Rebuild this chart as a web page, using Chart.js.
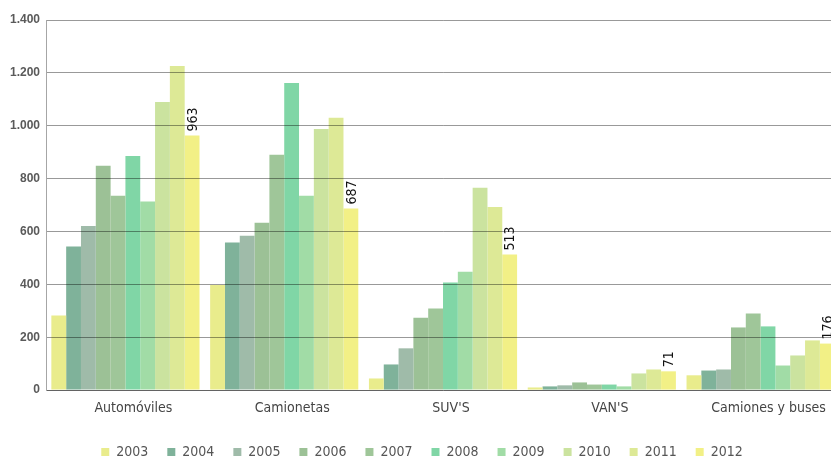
<!DOCTYPE html>
<html>
<head>
<meta charset="utf-8">
<script src="https://cdn.jsdelivr.net/npm/chart.js@4/dist/chart.umd.min.js"></script>
<style>
  html, body { margin: 0; padding: 0; overflow: hidden; background: #fff; }
  #wrap { width: 842px; height: 457px; position: relative; }
</style>
</head>
<body>
<div id="wrap"><canvas id="chart"></canvas></div>
<script>
// categories and years
const categories = ['Automóviles', 'Camionetas', "SUV'S", "VAN'S", 'Camiones y buses'];
const years = ['2003', '2004', '2005', '2006', '2007', '2008', '2009', '2010', '2011', '2012'];

// values per year, one entry per category
const v2003 = [282, 398, 44, 10, 56];
const v2004 = [543, 558, 97, 14, 74];
const v2005 = [621, 584, 158, 18, 78];
const v2006 = [849, 633, 274, 29, 237];
const v2007 = [735, 890, 309, 21, 290];
const v2008 = [886, 1162, 407, 21, 241];
const v2009 = [713, 735, 448, 14, 93];
const v2010 = [1090, 988, 765, 63, 131];
const v2011 = [1226, 1030, 693, 78, 188];
const v2012 = [963, 687, 513, 71, 176];

const yTicks = [0, 200, 400, 600, 800, 1000, 1200, 1400];

const colors = ['#e9ec8c', '#7fb29a', '#9fbba9', '#9cc196', '#9fc699',
                '#80d6a6', '#a1dca6', '#cbe39f', '#dde996', '#f2f086'];
const series = [v2003, v2004, v2005, v2006, v2007, v2008, v2009, v2010, v2011, v2012];

const narrow = '"DejaVu Sans Condensed", "Liberation Sans Narrow", "DejaVu Sans", sans-serif';

// value labels for the last year, drawn vertically above the bars
const lastYearLabels = {
  id: 'lastYearLabels',
  afterDraw(chart) {
    const idx = series.length - 1;
    const meta = chart.getDatasetMeta(idx);
    const ctx = chart.ctx;
    ctx.save();
    ctx.font = '14px ' + narrow;
    ctx.fillStyle = '#111';
    ctx.textAlign = 'left';
    ctx.textBaseline = 'middle';
    meta.data.forEach((bar, i) => {
      ctx.save();
      ctx.translate(bar.x + 1, bar.y - 4);
      ctx.rotate(-Math.PI / 2);
      ctx.fillText(String(series[idx][i]), 0, 0);
      ctx.restore();
    });
    ctx.restore();
  }
};

// trim the empty space under the legend
const legendTrim = {
  id: 'legendTrim',
  beforeInit(chart) {
    const fit = chart.legend.fit;
    chart.legend.fit = function () {
      fit.call(this);
      this.height -= 12;
    };
  }
};

new Chart(document.getElementById('chart').getContext('2d'), {
  type: 'bar',
  data: {
    labels: categories,
    datasets: years.map((y, i) => ({
      label: y,
      data: series[i],
      backgroundColor: colors[i],
      borderWidth: 0,
      categoryPercentage: 0.933,
      barPercentage: 1
    }))
  },
  options: {
    responsive: true,
    maintainAspectRatio: false,
    animation: false,
    layout: { padding: { top: 20, right: 2, left: 4, bottom: 0 } },
    plugins: {
      tooltip: { enabled: false },
      legend: {
        position: 'bottom',
        labels: {
          boxWidth: 8,
          boxHeight: 8,
          padding: 19,
          color: '#555',
          font: { family: narrow, size: 14 }
        }
      }
    },
    scales: {
      x: {
        grid: { display: false },
        border: { color: '#a6a6a6', width: 1 },
        afterFit: s => { s.height += 6.5; },
        ticks: {
          color: '#444',
          padding: 2.3,
          labelOffset: 8,
          maxRotation: 0,
          autoSkip: false,
          font: { family: narrow, size: 14 }
        }
      },
      y: {
        min: 0,
        max: 1400,
        afterBuildTicks: s => { s.ticks = yTicks.map(v => ({ value: v })); },
        grid: { color: 'rgba(0,0,0,0.4)', drawTicks: false, z: 1 },
        border: { color: '#a6a6a6', width: 1, z: 2 },
        ticks: {
          color: '#5a5a5a',
          padding: 6,
          font: { family: '"Liberation Sans", Arial, sans-serif', size: 12, weight: 'bold' },
          callback: v => String(v).replace(/\B(?=(\d{3})+(?!\d))/g, '.')
        }
      }
    }
  },
  plugins: [lastYearLabels, legendTrim]
});
</script>
</body>
</html>
